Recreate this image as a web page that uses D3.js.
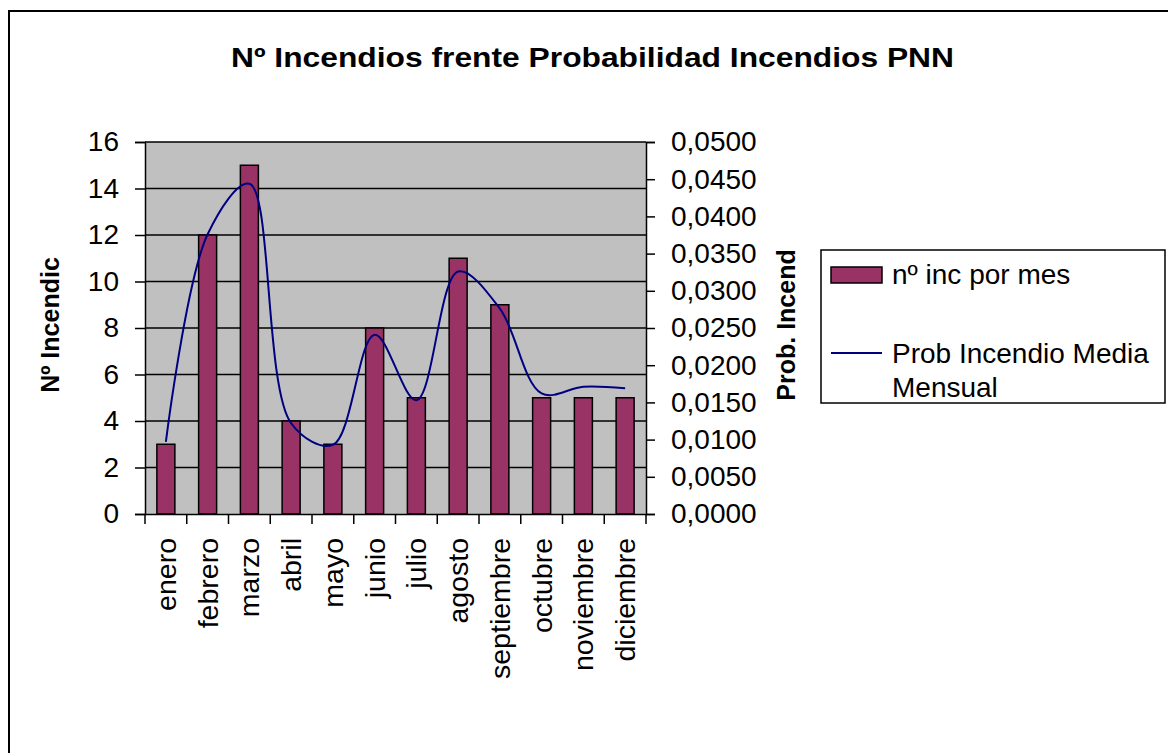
<!DOCTYPE html>
<html>
<head>
<meta charset="utf-8">
<script src="https://cdn.jsdelivr.net/npm/d3@7"></script>
<style>
body{margin:0;background:#fff;}
text{font-family:"Liberation Sans",Arial,sans-serif;fill:#000;}
</style>
</head>
<body>
<div class="container"></div>
<script>
var months = ["enero","febrero","marzo","abril","mayo","junio","julio","agosto","septiembre","octubre","noviembre","diciembre"];
var incPorMes = [3,12,15,4,3,8,5,11,9,5,5,5];
var probMedia = [0.0097,0.0376,0.0444,0.0122,0.0093,0.0241,0.0153,0.0326,0.0276,0.0162,0.0171,0.0169];
var leftTicks = [0,2,4,6,8,10,12,14,16];
var rightTicks = [0,0.005,0.01,0.015,0.02,0.025,0.03,0.035,0.04,0.045,0.05];

var W = 1168, H = 753;
var plot = {left:145, right:646, top:142, bottom:514};

var svg = d3.select('.container').append('svg')
	.attr("width", W)
	.attr("height", H);

// outer frame, runs off the right and bottom edges
svg.append('rect')
	.attr("x", 9).attr("y", 11)
	.attr("width", 1200).attr("height", 800)
	.attr("fill", "none").attr("stroke", "#000").attr("stroke-width", 2);

svg.append('text')
	.attr("x", 592.5).attr("y", 67)
	.attr("text-anchor", "middle")
	.attr("textLength", 723).attr("lengthAdjust", "spacingAndGlyphs")
	.style("font-size", "27px").style("font-weight", "bold")
	.text("Nº Incendios frente Probabilidad Incendios PNN");

var x = d3.scaleBand().domain(months).range([plot.left, plot.right]).paddingInner(0.569).paddingOuter(0.2845);
var yL = d3.scaleLinear().domain([0,16]).range([plot.bottom, plot.top]);
var yR = d3.scaleLinear().domain([0,0.05]).range([plot.bottom, plot.top]);

svg.append('rect')
	.attr("x", plot.left).attr("y", plot.top)
	.attr("width", plot.right-plot.left).attr("height", plot.bottom-plot.top)
	.attr("fill", "#c0c0c0");

// gridlines
svg.append('g').selectAll('line')
	.data(leftTicks.slice(1)).enter()
	.append('line')
	.attr("x1", plot.left).attr("x2", plot.right)
	.attr("y1", function(d){return yL(d);}).attr("y2", function(d){return yL(d);})
	.attr("stroke", "#000").attr("stroke-width", 1.5);

svg.append('g').selectAll('rect')
	.data(incPorMes).enter()
	.append('rect')
	.attr("x", function(d,i){return x(months[i]);})
	.attr("y", function(d){return yL(d);})
	.attr("width", x.bandwidth())
	.attr("height", function(d){return yL(0)-yL(d);})
	.attr("fill", "#993366").attr("stroke", "#000").attr("stroke-width", 1.5);

var line = d3.line()
	.x(function(d,i){return x(months[i])+x.bandwidth()/2;})
	.y(function(d){return yR(d);})
	.curve(d3.curveCatmullRom.alpha(0.5));

svg.append('path')
	.datum(probMedia)
	.attr("d", line)
	.attr("fill", "none").attr("stroke", "#000080").attr("stroke-width", 2);

// axes
var left = svg.append('g')
	.attr("transform", "translate(" + plot.left + ",0)")
	.call(d3.axisLeft(yL).tickValues(leftTicks).tickSize(10).tickPadding(16));
var right = svg.append('g')
	.attr("transform", "translate(" + plot.right + ",0)")
	.call(d3.axisRight(yR).tickValues(rightTicks).tickSize(9).tickPadding(16)
		.tickFormat(function(d){return d3.format(".4f")(d).replace(".", ",");}));
var bottom = svg.append('g')
	.attr("transform", "translate(0," + plot.bottom + ")")
	.call(d3.axisBottom(x).tickSize(0).tickFormat(""));

[left, right, bottom].forEach(function(g){
	g.select('.domain').attr("stroke", "#000").attr("stroke-width", 1.5);
	g.selectAll('.tick line').attr("stroke", "#000").attr("stroke-width", 1.5);
	g.selectAll('text').style("font-size", "28px").style("font-family", "\"Liberation Sans\",Arial,sans-serif").attr("fill", "#000");
});

// category boundary ticks
var bounds = months.map(function(m){return x(m) - x.step()*x.paddingInner()/2;});
bounds.push(plot.right);
svg.append('g').selectAll('line')
	.data(bounds).enter()
	.append('line')
	.attr("x1", function(d){return d;}).attr("x2", function(d){return d;})
	.attr("y1", plot.bottom).attr("y2", plot.bottom+10)
	.attr("stroke", "#000").attr("stroke-width", 1.5);

svg.append('g').selectAll('text')
	.data(months).enter()
	.append('text')
	.attr("transform", function(d){return "translate(" + (x(d)+x.bandwidth()/2) + ",538) rotate(-90)";})
	.attr("text-anchor", "end")
	.attr("dy", "0.35em")
	.style("font-size", "28.5px")
	.text(function(d){return d;});

svg.append('text')
	.attr("transform", "translate(59,325) rotate(-90)")
	.attr("text-anchor", "middle")
	.style("font-size", "25px").style("font-weight", "bold")
	.text("Nº Incendic");
svg.append('text')
	.attr("transform", "translate(795,325) rotate(-90)")
	.attr("text-anchor", "middle")
	.style("font-size", "25px").style("font-weight", "bold")
	.text("Prob. Incend");

// legend
var legend = svg.append('g');
legend.append('rect')
	.attr("x", 821).attr("y", 250).attr("width", 344).attr("height", 153)
	.attr("fill", "#fff").attr("stroke", "#000").attr("stroke-width", 1.5);
legend.append('rect')
	.attr("x", 831).attr("y", 267).attr("width", 51).attr("height", 16)
	.attr("fill", "#993366").attr("stroke", "#000").attr("stroke-width", 1.5);
legend.append('text').attr("x", 892).attr("y", 284).style("font-size", "28px").text("nº inc por mes");
legend.append('line')
	.attr("x1", 831).attr("x2", 882).attr("y1", 353).attr("y2", 353)
	.attr("stroke", "#000080").attr("stroke-width", 2);
legend.append('text').attr("x", 892).attr("y", 363).style("font-size", "28px").text("Prob Incendio Media");
legend.append('text').attr("x", 892).attr("y", 397).style("font-size", "28px").text("Mensual");
</script>
</body>
</html>
